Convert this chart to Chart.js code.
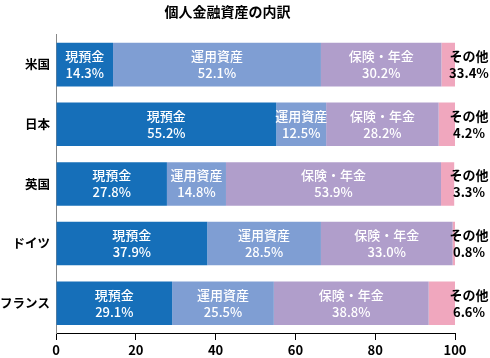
<!DOCTYPE html>
<html>
<head>
<meta charset="utf-8">
<script src="https://cdn.jsdelivr.net/npm/chart.js@4/dist/chart.umd.min.js"></script>
<style>
html,body{margin:0;padding:0;background:#fff;}
#wrap{width:490px;height:358px;position:relative;}
</style>
</head>
<body>
<div id="wrap"><canvas id="c" width="490" height="358"></canvas></div>
<script>
const titleText = '個人金融資産の内訳';
const categories = ['米国', '日本', '英国', 'ドイツ', 'フランス'];
const seriesNames = ['現預金', '運用資産', '保険・年金', 'その他'];
const cash = [14.3, 55.2, 27.8, 37.9, 29.1];
const investments = [52.1, 12.5, 14.8, 28.5, 25.5];
const insurance = [30.2, 28.2, 53.9, 33.0, 38.8];
const others = [3.4, 4.2, 3.3, 0.8, 6.6];
const otherLabels = ['33.4%', '4.2%', '3.3%', '0.8%', '6.6%'];
const xTicks = [0, 20, 40, 60, 80, 100];
const colors = ['#166fb9', '#7f9ed3', '#b09ecb', '#f0a7be'];

const FONT = '"Noto Sans CJK JP", "Noto Sans", sans-serif';

const labelPlugin = {
  id: 'segLabels',
  afterDatasetsDraw(chart) {
    const ctx = chart.ctx;
    const xs = chart.scales.x;
    ctx.save();
    ctx.textBaseline = 'middle';
    chart.data.datasets.forEach((ds, di) => {
      const meta = chart.getDatasetMeta(di);
      meta.data.forEach((el, i) => {
        const v = ds.data[i];
        let cx, color;
        let pct;
        if (di < 3) {
          cx = (el.x + el.base) / 2;
          color = '#ffffff';
          pct = v.toFixed(1) + '%';
        } else {
          cx = xs.getPixelForValue(100) + 14;
          color = '#000000';
          pct = otherLabels[i];
        }
        ctx.fillStyle = color;
        ctx.textAlign = 'center';
        ctx.font = (di < 3 ? '500 ' : 'bold ') + '13px ' + FONT;
        ctx.fillText(ds.label, cx, el.y - 8.5);
        ctx.fillText(pct, cx, el.y + 8.5);
      });
    });
    ctx.restore();
  }
};

const series = [cash, investments, insurance, others];
new Chart(document.getElementById('c'), {
  type: 'bar',
  data: {
    labels: categories,
    datasets: series.map((d, i) => ({
      label: seriesNames[i],
      data: d,
      backgroundColor: colors[i],
      borderWidth: 0,
      barPercentage: 0.73,
      categoryPercentage: 1.0
    }))
  },
  options: {
    indexAxis: 'y',
    responsive: false,
    animation: false,
    devicePixelRatio: 1,
    layout: { padding: { left: 0, right: 35, top: 0, bottom: 0 } },
    plugins: {
      legend: { display: false },
      tooltip: { enabled: false },
      title: {
        display: true,
        text: titleText,
        color: '#000',
        font: { family: FONT, size: 14, weight: 'bold' },
        padding: { top: 3, bottom: 15 }
      }
    },
    scales: {
      x: {
        stacked: true,
        min: 0,
        max: 100,
        afterBuildTicks(scale) { scale.ticks = xTicks.map(v => ({ value: v })); },
        afterFit(scale) { scale.height = 25; },
        grid: { drawOnChartArea: false, drawTicks: true, tickLength: 7, color: '#000', lineWidth: 1 },
        border: { color: '#000', width: 1 },
        ticks: { color: '#000', padding: 2, font: { family: FONT, size: 13, weight: 'bold' } }
      },
      y: {
        stacked: true,
        afterFit(scale) { scale.width = 56; },
        grid: { display: false, drawTicks: false, tickLength: 0 },
        border: { color: '#888', width: 1 },
        ticks: { color: '#000', padding: 6, font: { family: FONT, size: 12.5, weight: 'bold' } }
      }
    }
  },
  plugins: [labelPlugin]
});
</script>
</body>
</html>
